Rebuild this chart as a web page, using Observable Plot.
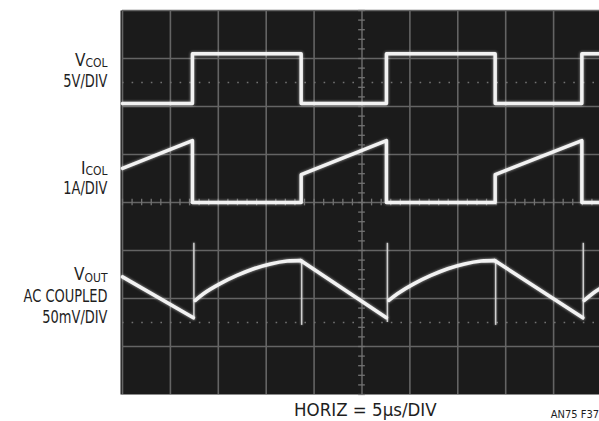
<!DOCTYPE html>
<html><head><meta charset="utf-8">
<script src="https://cdn.jsdelivr.net/npm/d3@7"></script>
<script src="https://cdn.jsdelivr.net/npm/@observablehq/plot@0.6"></script>
<style>
html,body{margin:0;padding:0;background:#fff;}
#chart{width:599px;height:421px;overflow:hidden;}
#chart svg{display:block;}
.trace path{filter:drop-shadow(0 0 1.5px rgba(255,255,255,0.6));}
.spike line{filter:drop-shadow(0 0 1px rgba(255,255,255,0.5));}
.grid line{filter:blur(0.35px);}
</style>
</head><body><div id="chart"></div>
<script>
// Horizontal unit: microseconds (5 µs/DIV). Vertical unit: graticule divisions.
const gridX = [0, 5, 10, 15, 20, 25, 30, 35, 40, 45];
const gridY = [-3, -2, -1, 0, 1, 2, 3, 4];
const dottedY = [2.5, -2.5];

// V_COL trace (5V/DIV)
const vcolT = [0, 7.3, 7.3, 18.65, 18.65, 27.55, 27.55, 38.9, 38.9, 47.95, 47.95, 50];
const vcolV = [2.06, 2.06, 3.1, 3.1, 2.06, 2.06, 3.1, 3.1, 2.06, 2.06, 3.1, 3.1];

// I_COL trace (1A/DIV)
const icolT = [0, 7.3, 7.3, 18.65, 18.65, 27.55, 27.55, 38.9, 38.9, 47.95, 47.95, 50];
const icolV = [0.71, 1.29, 0.0, 0.0, 0.58, 1.29, 0.0, 0.0, 0.58, 1.29, 0.0, 0.0];

// V_OUT trace (AC coupled, 50mV/DIV), split into segments
const voutT = [0, 7.4,
  7.6, 8.45, 10.2, 11.95, 13.7, 15.45, 17.2, 18.6,
  18.6, 27.55,
  27.8, 28.7, 30.45, 32.2, 33.95, 35.7, 37.45, 38.85,
  38.85, 48.05,
  48.2, 49.05, 50];
const voutV = [-1.55, -2.40,
  -2.04, -1.90, -1.69, -1.52, -1.38, -1.28, -1.22, -1.21,
  -1.21, -2.40,
  -2.04, -1.90, -1.69, -1.52, -1.38, -1.28, -1.22, -1.21,
  -1.21, -2.40,
  -2.04, -1.90, -1.77];
const voutSeg = [0, 0,
  1, 1, 1, 1, 1, 1, 1, 1,
  2, 2,
  3, 3, 3, 3, 3, 3, 3, 3,
  4, 4,
  5, 5, 5];

// Switching spikes on V_OUT
const spikeT = [7.45, 18.7, 27.65, 38.95, 48.1];
const spikeTop = [-0.85, -1.22, -0.85, -1.22, -0.85];
const spikeBottom = [-2.45, -2.56, -2.5, -2.56, -2.45];

// Channel labels
const labelMain = ["V", "I", "V"];
const labelSub = ["COL", "COL", "OUT"];
const labelMainY = [2.854, 0.604, -1.62];
const labelLines = ["5V/DIV", "1A/DIV", "AC COUPLED", "50mV/DIV"];
const labelLinesY = [2.396, 0.177, -2.08, -2.5];
const caption = ["HORIZ = 5µs/DIV"];
const figId = ["AN75 F37"];

const FONT = "'Liberation Sans Narrow','Arial Narrow','DejaVu Sans Condensed',sans-serif";
const ctx = document.createElement("canvas").getContext("2d");
ctx.font = "12px " + FONT;
const subW = labelSub.map(s => ctx.measureText(s).width);

const rec = (T, V) => T.map((t, i) => ({t, v: V[i]}));
const vcol = rec(vcolT, vcolV);
const icol = rec(icolT, icolV);
const vout = voutT.map((t, i) => ({t, v: voutV[i], s: voutSeg[i]}));
const spikes = spikeT.map((t, i) => ({t, a: spikeTop[i], b: spikeBottom[i]}));
const mains = labelMain.map((s, i) => ({s, y: labelMainY[i], w: subW[i]}));
const subs = labelSub.map((s, i) => ({s, y: labelMainY[i]}));
const lines = labelLines.map((s, i) => ({s, y: labelLinesY[i]}));

const minorX = d3.range(0, 50.01, 1);
const minorY = d3.range(-4, 4.01, 0.2);
const gridStroke = "#646464";
const ink = "#1e1e1e";

const plot = Plot.plot({
  width: 599, height: 421,
  marginLeft: 122, marginRight: -2, marginTop: 10, marginBottom: 27,
  x: {domain: [0, 50], axis: null},
  y: {domain: [-4, 4], axis: null},
  style: {background: "#fff", fontFamily: FONT, overflow: "visible"},
  marks: [
    Plot.frame({fill: "#1b1b1b", stroke: null, insetLeft: -2, insetRight: 2}),
    Plot.ruleX(gridX, {stroke: gridStroke, strokeWidth: 1.6, className: "grid"}),
    Plot.ruleY(gridY, {stroke: gridStroke, strokeWidth: 1.6, className: "grid"}),
    Plot.ruleY(dottedY, {stroke: "#727272", strokeWidth: 1.7, strokeDasharray: "1.6,8", className: "grid"}),
    Plot.ruleX(minorX, {y1: -0.07, y2: 0.07, stroke: "#727272", strokeWidth: 1.3, className: "grid"}),
    Plot.ruleY(minorY, {x1: 24.65, x2: 25.35, stroke: "#727272", strokeWidth: 1.3, className: "grid"}),
    Plot.line(vcol, {x: "t", y: "v", stroke: "#f2f2f2", strokeWidth: 3.5, strokeLinejoin: "round", className: "trace"}),
    Plot.line(icol, {x: "t", y: "v", stroke: "#f2f2f2", strokeWidth: 3.5, strokeLinejoin: "round", className: "trace"}),
    Plot.ruleX(spikes, {x: "t", y1: "a", y2: "b", stroke: "#d0d0d0", strokeWidth: 1.5, className: "spike"}),
    Plot.line(vout, {x: "t", y: "v", z: "s", curve: "catmull-rom", stroke: "#f2f2f2", strokeWidth: 3.6, strokeLinejoin: "round", className: "trace"}),
    Plot.text(subs, {y: "y", text: "s", frameAnchor: "left", textAnchor: "end", lineAnchor: "bottom", dx: -15, dy: 1.5, fontSize: 12, fill: ink}),
    Plot.text(mains, {y: "y", text: "s", frameAnchor: "left", textAnchor: "end", lineAnchor: "bottom", fontSize: 17, fill: ink}),
    Plot.text(lines, {y: "y", text: "s", frameAnchor: "left", textAnchor: "end", lineAnchor: "bottom", dx: -15, fontSize: 17, fill: ink}),
    Plot.text(caption, {x: 25.35, y: -4.44, text: d => d, textAnchor: "middle", lineAnchor: "bottom", fontSize: 18.5, fill: ink}),
    Plot.text(figId, {x: 50, y: -4.48, text: d => d, textAnchor: "end", lineAnchor: "bottom", dx: -2.5, fontSize: 11, fill: ink})
  ]
});
document.getElementById("chart").appendChild(plot);

const textGroups = d3.select(plot).selectAll("g[aria-label=text]").nodes();
// Shift main letters left of their subscripts (subscript width measured in the same font)
d3.select(textGroups[1]).selectAll("text").each(function(_, i) {
  d3.select(this).attr("dx", -15 - mains[i].w);
});
// Condense the label lines horizontally about their right-aligned anchor
d3.select(textGroups[2]).selectAll("text").each(function() {
  const el = d3.select(this);
  el.attr("transform", (el.attr("transform") || "") + " scale(0.85,1)");
});
</script>
</body></html>
